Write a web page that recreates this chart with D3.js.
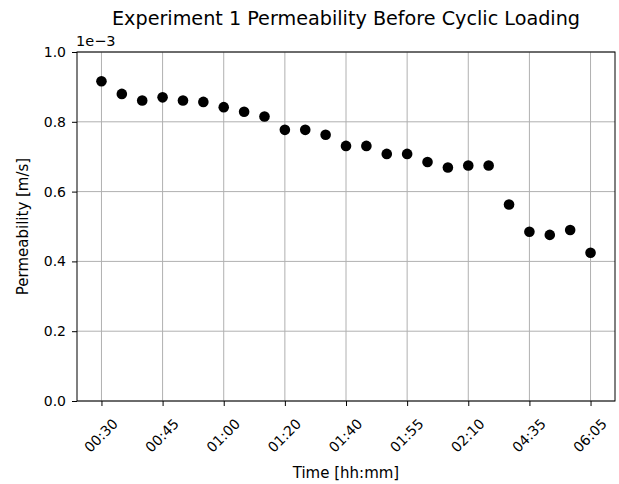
<!DOCTYPE html>
<html>
<head>
<meta charset="utf-8">
<script src="https://cdn.jsdelivr.net/npm/d3@7"></script>
<style>
  body { margin: 0; background: #fff; }
  text { font-family: "DejaVu Sans", sans-serif; fill: #000; }
</style>
</head>
<body>
<div id="chart"></div>
<script>
const width = 619;
const height = 484;

// permeability readings (x1e-3 m/s), one per sample
const permeability = [0.916, 0.880, 0.861, 0.870, 0.861, 0.857, 0.842, 0.829, 0.815,
    0.777, 0.777, 0.763, 0.731, 0.731, 0.708, 0.708, 0.685, 0.669, 0.675, 0.675,
    0.563, 0.485, 0.476, 0.490, 0.425];
// every third sample gets a tick label
const tickIndex = [0, 3, 6, 9, 12, 15, 18, 21, 24];
const tickLabels = ["00:30", "00:45", "01:00", "01:20", "01:40", "01:55", "02:10", "04:35", "06:05"];
const yTicks = [0.0, 0.2, 0.4, 0.6, 0.8, 1.0];

const margin = {top: 52, right: 4, bottom: 83, left: 77};
const plotW = width - margin.left - margin.right;
const plotH = height - margin.top - margin.bottom;
const tickFont = 14;

const svg = d3.select("#chart").append("svg")
    .attr("width", width)
    .attr("height", height);

const g = svg.append("g")
    .attr("transform", `translate(${margin.left},${margin.top})`);

// matplotlib-style 5% margins on x
const n = permeability.length - 1;
const x = d3.scaleLinear()
    .domain([-0.05 * n, n * 1.05])
    .range([0, plotW]);

const y = d3.scaleLinear()
    .domain([0, 1])
    .range([plotH, 0]);

// grid
g.selectAll(".vgrid")
    .data(tickIndex)
    .enter().append("line")
    .attr("x1", d => x(d)).attr("x2", d => x(d))
    .attr("y1", 0).attr("y2", plotH)
    .attr("stroke", "#b0b0b0")
    .attr("stroke-width", 1);

g.selectAll(".hgrid")
    .data(yTicks)
    .enter().append("line")
    .attr("x1", 0).attr("x2", plotW)
    .attr("y1", d => y(d)).attr("y2", d => y(d))
    .attr("stroke", "#b0b0b0")
    .attr("stroke-width", 1);

// axes
const xAxis = g.append("g")
    .attr("transform", `translate(0,${plotH})`)
    .call(d3.axisBottom(x).tickValues(tickIndex).tickFormat((d, i) => tickLabels[i]).tickSize(5).tickSizeOuter(0));
xAxis.select(".domain").remove();
xAxis.selectAll("line").attr("stroke", "#000");
xAxis.selectAll("text")
    .style("font-size", tickFont + "px")
    .attr("text-anchor", "middle")
    .attr("dominant-baseline", "central")
    .attr("y", 0)
    .attr("dy", 0)
    .attr("transform", function() {
        const w = this.getComputedTextLength();
        const off = 16.6 + (w + 0.73 * tickFont) / (2 * Math.SQRT2);
        return `translate(-1,${off}) rotate(-45)`;
    });

const yAxis = g.append("g")
    .call(d3.axisLeft(y).tickValues(yTicks).tickFormat(d3.format(".1f")).tickSize(5).tickSizeOuter(0));
yAxis.select(".domain").remove();
yAxis.selectAll("line").attr("stroke", "#000");
yAxis.selectAll("text").style("font-size", tickFont + "px").attr("x", -11);

// frame
g.append("rect")
    .attr("width", plotW)
    .attr("height", plotH)
    .attr("fill", "none")
    .attr("stroke", "#000")
    .attr("stroke-width", 1);

// points
g.selectAll(".dot")
    .data(permeability)
    .enter().append("circle")
    .attr("cx", (d, i) => x(i))
    .attr("cy", d => y(d))
    .attr("r", 5.3)
    .attr("fill", "#000");

// offset text
g.append("text")
    .attr("x", -1)
    .attr("y", -6)
    .style("font-size", "14.5px")
    .text("1e\u22123");

// title
svg.append("text")
    .attr("x", margin.left + plotW / 2)
    .attr("y", 25)
    .attr("text-anchor", "middle")
    .style("font-size", "19.2px")
    .text("Experiment 1 Permeability Before Cyclic Loading");

svg.append("text")
    .attr("x", margin.left + plotW / 2)
    .attr("y", 478)
    .attr("text-anchor", "middle")
    .style("font-size", "15px")
    .text("Time [hh:mm]");

svg.append("text")
    .attr("transform", `translate(28,${margin.top + plotH / 2}) rotate(-90)`)
    .attr("text-anchor", "middle")
    .style("font-size", "15px")
    .text("Permeability [m/s]");
</script>
</body>
</html>
